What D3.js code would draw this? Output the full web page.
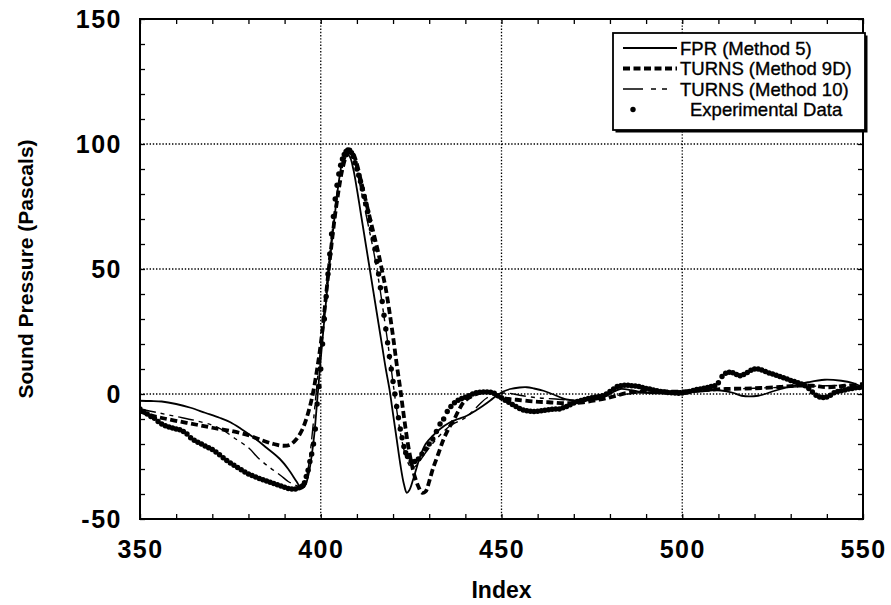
<!DOCTYPE html>
<html><head><meta charset="utf-8">
<script src="https://cdn.jsdelivr.net/npm/d3@7"></script>
<style>body{margin:0;background:#fff}svg{display:block}</style>
</head><body><svg id="c" width="891" height="605"></svg>
<script>
const xLabels = [350, 400, 450, 500, 550];
const yLabels = [-50, 0, 50, 100, 150];
const xGrid = [400, 450, 500];
const yGrid = [0, 50, 100];
const legendLabels = ["FPR (Method 5)", "TURNS (Method 9D)", "TURNS (Method 10)", "Experimental Data"];

const fpr = [[350,-2.7],[353,-2.8],[356,-3],[360,-4],[364,-5.5],[368,-7.5],[372,-9.5],[375,-11.3],[378,-14],[382,-18],[385,-21.5],[388.7,-26],[391,-30],[393.3,-35],[394.5,-37.5],[395.5,-37],[396.5,-33],[398,-19],[399,-3],[400,14],[401,30],[402,45],[403,60],[404,73],[405,85],[406,93],[407,96],[408,95],[409,90],[410,82],[411,73],[412,64],[413,55],[414,46],[415,37],[416,28],[417,19],[418,10],[419,2],[420,-8],[421,-18],[422,-28],[423,-36],[423.8,-39.5],[424.5,-38.5],[425.6,-34],[427.5,-25],[429,-20],[431,-16.7],[433,-14],[435.8,-11.3],[438,-10],[440.4,-8.7],[443,-6.5],[444.9,-4.7],[447,-2.5],[448.6,-0.7],[450.5,1],[452.4,2],[455,2.6],[457,2.7],[459,2.2],[461.6,1.3],[464,0],[466.2,-1.3],[468,-2.2],[470.8,-2.7],[474,-2.5],[477.2,-2],[480,0],[482.8,2],[486,1.5],[490,0.5],[495,0.3],[500,0.7],[505,1],[510,1.5],[514,0.5],[516.4,-0.7],[521,-0.7],[525.6,1.3],[530,3],[534.8,4.7],[539.4,5.7],[544,5.3],[547,4.5],[550,2.7]];

const turns9d = [[350,-7],[353,-8.5],[356.4,-9.7],[361,-11],[365.7,-12.3],[370,-13.5],[374.9,-14.7],[380,-16.5],[384.1,-18.7],[387,-20],[389.6,-20.7],[391.5,-20.3],[393.3,-18],[394.8,-14.5],[396,-10],[397,-5],[397.9,0.7],[399,10],[400,20],[401,33],[402,47],[403,60],[404,72],[405,82],[406,90],[407,95],[408,97],[409,96],[410,92],[411,86],[412,80],[413,74],[414,68],[415,62],[416,56],[417,49],[418,42],[419,33],[420,23],[421,12],[422,2],[423,-9],[424,-19],[425,-27],[426,-33],[427,-37],[428,-39.5],[429,-39],[430,-35],[431,-30],[432.5,-24],[434,-18],[435.5,-13.5],[436.7,-10.7],[438,-7],[439.5,-3.3],[441,-1.5],[443.1,0],[445,0.8],[446.8,0.7],[448,0],[449.6,-1.3],[452,-2],[454.2,-2.3],[458.8,-3],[463,-3.3],[468,-3.7],[472.6,-3.3],[477,-2.3],[481,-1],[485,0.5],[490,1],[495,1],[500,1],[505,1.5],[512,2],[520,2.3],[527,2.8],[531,3.3],[536,3.3],[540,2.7],[545,3.3],[550,4]];

const turns10 = [[350,-6],[355,-7.5],[360,-9],[365,-10.5],[370,-12.5],[373,-14.5],[376,-17.5],[380,-21.5],[383,-26],[386,-29.5],[389,-32.7],[391,-35],[393.3,-36.7],[394.5,-37.5],[395.5,-36],[396.5,-30],[397.5,-18],[398.5,-3],[399.5,12],[400.5,27],[401.5,42],[402.5,56],[403.5,69],[404.5,80],[405.5,88],[406.5,93],[407.5,96],[408.5,96],[409.5,92],[410.5,86],[411.5,79],[412.5,72],[413.5,65],[414.5,58],[415.5,50],[416.5,41],[417.5,31],[418.5,21],[419.5,10],[420.5,-1],[421.5,-11],[422.5,-19],[423.5,-25],[424.5,-28.5],[425.5,-29.5],[426.5,-28.5],[428,-25.5],[430,-21.5],[432,-18],[434,-15],[436,-12.5],[438,-11],[440,-9.5],[442,-7],[444,-4],[446,-1.5],[448,-0.3],[450,0.3],[452,0.3],[455,-0.5],[460,-1.5],[465,-2],[470,-2.5],[475,-2],[480,-1],[485,0],[490,0.7],[500,1.3],[510,1.8],[520,2.3],[530,2.8],[540,3.3],[550,3.5]];

const experimental = [[350,-6],[351,-7],[352,-8],[353,-9],[354,-9.7],[355,-11],[356,-12],[357,-12.7],[358,-13.2],[359,-13.6],[360,-14],[361,-14.3],[362,-15],[363,-16],[364,-17.5],[365,-18.5],[366,-19.3],[367,-20],[368,-20.8],[369,-21.5],[370,-22.2],[371,-23.2],[372,-24.3],[373,-25.5],[374,-26.6],[375,-27.6],[376,-28.5],[377,-29.4],[378,-30.3],[379,-31.2],[380,-32],[381,-32.6],[382,-33.2],[383,-33.8],[384,-34.3],[385,-34.8],[386,-35.3],[387,-35.8],[388,-36.3],[389,-36.8],[390,-37.3],[391,-37.8],[392,-38],[393,-38],
[394,-37.5],[394.5,-37.2],[395,-36.7],[395.5,-35.5],[396,-33],[396.5,-30.5],[397,-27],[397.5,-24],[398,-20],[398.5,-14],[399,-4],[399.5,3],[400,10],[400.5,20],[401,30],[401.5,39],[402,48],[402.5,56],[403,64],[403.5,71],[404,78],[404.5,83.5],[405,88],[405.5,91.5],[406,94],[406.5,95.8],[407,97],[407.5,97.6],[408,97.5],[408.5,96.5],[409,95],[409.5,92.5],[410,90],[410.5,87.5],[411,85],[411.5,82],[412,79],[412.5,76],[413,73],[413.5,69.5],[414,66],[414.5,62],[415,58],[415.5,53],[416,48],[416.5,42.5],[417,37],[417.5,31.5],[418,26],[418.5,20.5],[419,15],[419.5,10],[420,5],[420.5,0],[421,-5],[421.5,-9.5],[422,-14],[422.5,-17.5],[423,-21],[423.5,-23.5],[424,-25],
[425,-27],[426,-27],[427,-26],[428,-24],[429,-22],[430,-20],[431,-18],[432,-15],[433,-12],[434,-10],[435,-7],[436,-5],[437,-3.5],[438,-2.5],[439,-1.8],[440,-1.3],[441,-0.7],[442,0],[443,0.5],[444,0.7],[445,0.8],[446,0.8],[447,0.7],[448,0.3],[449,-0.7],[450,-1.5],[451,-2.5],[452,-3.3],[453,-4.2],[454,-5],[455,-5.8],[456,-6.4],[457,-6.7],[458,-6.9],[459,-7],[460,-6.9],[461,-6.7],[462,-6.5],[463,-6.3],[464,-6.1],[465,-6],[466,-6],[467,-5.5],[468,-5],[469,-4.3],[470,-3.6],[471,-3],[472,-2.6],[473,-2.2],[474,-1.8],[475,-1.5],[476,-1.2],[477,-1],[478,-0.7],[479,0],[480,1],[481,2],[482,3],[483,3.3],[484,3.5],[485,3.5],[486,3.3],[487,3.2],[488,3],[489,2.6],[490,2.2],[491,2],[492,1.6],[493,1.3],[494,1],[495,0.8],[496,0.6],[497,0.5],[498,0.4],[499,0.3],[500,0.4],[501,0.7],[502,1],[503,1.4],[504,1.8],[505,2],[506,2.3],[507,2.6],[508,3],[509,3.3],[510,4.5],[511,7],[512,8.3],[513,8.7],[514,8.5],[515,7.8],[516,7.3],[517,7.8],[518,8.6],[519,9.5],[520,10],[521,10],[522,9.6],[523,9],[524,8.4],[525,8],[526,7.5],[527,7],[528,6.5],[529,6],[530,5.4],[531,5],[532,4.5],[533,4],[534,3.3],[535,2.2],[536,0.8],[537,-0.5],[538,-1.2],[539,-1.4],[540,-1.2],[541,-0.5],[542,0.5],[543,1],[544,1.3],[545,1.6],[546,2],[547,2.2],[548,2.5],[549,2.6],[550,2.7]];

const svg = d3.select("#c");
const x = d3.scaleLinear().domain([350, 550]).range([140, 863]);
const y = d3.scaleLinear().domain([-50, 150]).range([519, 19]);
const [x0, x1] = x.range();
const [y0, y1] = y.range();

// gridlines
const grid = svg.append("g").attr("stroke", "#000").attr("stroke-width", 1.3).attr("stroke-dasharray", "1.4,1.8");
grid.selectAll(".gx").data(xGrid).join("line").attr("x1", d => x(d)).attr("x2", d => x(d)).attr("y1", y1).attr("y2", y0);
grid.selectAll(".gy").data(yGrid).join("line").attr("y1", d => y(d)).attr("y2", d => y(d)).attr("x1", x0).attr("x2", x1);

// axes with inward ticks
const minorX = d3.range(350, 551, 10);
const minorY = d3.range(-50, 151, 10);
const fmt = d => "";
function styleAxis(g){ g.select(".domain").remove(); g.selectAll(".tick line").attr("stroke","#000").attr("stroke-width",1.3); }
svg.append("g").attr("transform", `translate(0,${y0})`)
  .call(d3.axisBottom(x).tickValues(minorX).tickSize(-5).tickPadding(21).tickFormat(d => xLabels.includes(d) ? d : ""))
  .call(styleAxis)
  .call(g => g.selectAll("text").attr("font-family","Liberation Sans, Arial, sans-serif").attr("font-weight","bold").attr("font-size",25).attr("letter-spacing",1.5).attr("fill","#000"));
svg.append("g").attr("transform", `translate(0,${y1})`)
  .call(d3.axisTop(x).tickValues(minorX).tickSize(-5).tickFormat(fmt)).call(styleAxis);
svg.append("g").attr("transform", `translate(${x0},0)`)
  .call(d3.axisLeft(y).tickValues(minorY).tickSize(-5).tickPadding(18).tickFormat(d => yLabels.includes(d) ? d : ""))
  .call(styleAxis)
  .call(g => g.selectAll("text").attr("font-family","Liberation Sans, Arial, sans-serif").attr("font-weight","bold").attr("font-size",25).attr("letter-spacing",1.5).attr("fill","#000"));
svg.append("g").attr("transform", `translate(${x1},0)`)
  .call(d3.axisRight(y).tickValues(minorY).tickSize(-5).tickFormat(fmt)).call(styleAxis);

// clip
svg.append("clipPath").attr("id","clip").append("rect").attr("x",x0).attr("y",y1).attr("width",x1-x0).attr("height",y0-y1);
const plot = svg.append("g").attr("clip-path","url(#clip)");

const line = d3.line().x(d => x(d[0])).y(d => y(d[1])).curve(d3.curveCatmullRom.alpha(0.5));

plot.append("path").datum(turns10).attr("d", line).attr("fill","none").attr("stroke","#000")
  .attr("stroke-width",1.4).attr("stroke-dasharray","16,5,4,5,4,5");
plot.append("path").datum(fpr).attr("d", line).attr("fill","none").attr("stroke","#000").attr("stroke-width",1.8);
plot.append("path").datum(turns9d).attr("d", line).attr("fill","none").attr("stroke","#000")
  .attr("stroke-width",3.8).attr("stroke-dasharray","7,3.5");
plot.selectAll(".exp").data(experimental).join("circle")
  .attr("cx", d => x(d[0])).attr("cy", d => y(d[1])).attr("r", 2.7).attr("fill","#000");

// frame
svg.append("rect").attr("x",x0).attr("y",y1).attr("width",x1-x0).attr("height",y0-y1)
  .attr("fill","none").attr("stroke","#000").attr("stroke-width",2);

// legend
const lg = svg.append("g");
const lx = 613, ly = 33, lw = 252, lh = 97;
lg.append("rect").attr("x",lx+2.5).attr("y",ly+2.5).attr("width",lw).attr("height",lh).attr("fill","#000");
lg.append("rect").attr("x",lx).attr("y",ly).attr("width",lw).attr("height",lh).attr("fill","#fff").attr("stroke","#000").attr("stroke-width",1.8);
const rows = legendLabels.map((t,i) => ({t, i}));
const rowY = i => ly + 15 + i * 20.5;
lg.selectAll(".lt").data(rows).join("text")
  .attr("x", d => d.i === 3 ? lx + 77 : lx + 67).attr("y", d => rowY(d.i)).attr("dy","0.36em")
  .attr("font-family","Liberation Sans, Arial, sans-serif").attr("font-size",18.5).attr("fill","#000")
  .attr("stroke","#000").attr("stroke-width",0.35)
  .text(d => d.t);
const sx0 = lx + 10, sx1 = lx + 64;
lg.append("line").attr("x1",sx0).attr("x2",sx1).attr("y1",rowY(0)).attr("y2",rowY(0)).attr("stroke","#000").attr("stroke-width",1.8);
lg.append("line").attr("x1",sx0).attr("x2",sx1).attr("y1",rowY(1)).attr("y2",rowY(1)).attr("stroke","#000").attr("stroke-width",3.8).attr("stroke-dasharray","7,3.5");
lg.append("line").attr("x1",sx0).attr("x2",sx1).attr("y1",rowY(2)).attr("y2",rowY(2)).attr("stroke","#000").attr("stroke-width",1.4).attr("stroke-dasharray","20,8,5,6,5,10");
lg.append("circle").attr("cx",lx+20).attr("cy",rowY(3)).attr("r",2.7).attr("fill","#000");

// axis titles
svg.append("text").attr("x", (x0+x1)/2).attr("y", 598).attr("text-anchor","middle")
  .attr("font-family","Liberation Sans, Arial, sans-serif").attr("font-weight","bold").attr("font-size",23).text("Index");
svg.append("text").attr("transform", `translate(33,${(y0+y1)/2}) rotate(-90)`).attr("text-anchor","middle")
  .attr("font-family","Liberation Sans, Arial, sans-serif").attr("font-weight","bold").attr("font-size",21).text("Sound Pressure (Pascals)");
</script></body></html>
